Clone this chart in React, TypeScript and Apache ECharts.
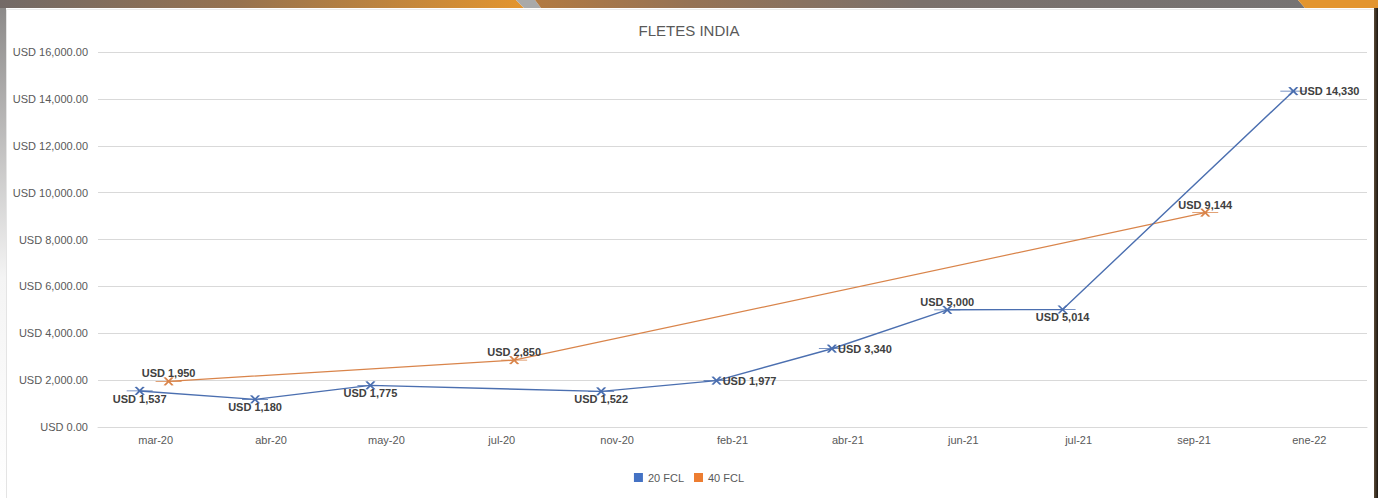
import React, { useEffect, useRef } from "react";
import * as echarts from "echarts";

const categories = ["mar-20", "abr-20", "may-20", "jul-20", "nov-20", "feb-21", "abr-21", "jun-21", "jul-21", "sep-21", "ene-22"];
const fcl20: (number | null)[] = [1537, 1180, 1775, null, 1522, 1977, 3340, 5000, 5014, null, 14330];
const fcl40: (number | null)[] = [1950, null, null, 2850, null, null, null, null, null, 9144, null];
const seriesNames = ["20 FCL", "40 FCL"];
const yTicks = { min: 0, max: 16000, interval: 2000 };

const labelPos20 = ["bottom", "bottom", "bottom", "bottom", "bottom", "right", "right", "top", "bottom", "bottom", "right"];
const labelPos40 = ["top", "top", "top", "top", "top", "top", "top", "top", "top", "top", "top"];

const BLUE = "#4472C4";
const ORANGE = "#ED7D31";
const BLUE_LINE = "#4b6fb0";
const ORANGE_LINE = "#d9844a";
const FONT = "'Liberation Sans', Arial, sans-serif";
const MARKER = "path://M0 4 L26 4 M9 0 L17 8 M17 0 L9 8";

const fmtUsd = (v: number) => "USD " + v.toLocaleString("en-US");
const fmtAxis = (v: number) =>
  "USD " + v.toLocaleString("en-US", { minimumFractionDigits: 2, maximumFractionDigits: 2 });

function buildData(vals: (number | null)[], pos: string[]) {
  return vals.map((v, i) => {
    if (v === null) return null;
    const p = pos[i];
    return {
      value: v,
      label: { position: p, distance: p === "right" ? -8 : -2 },
    };
  });
}

export default function App() {
  const ref = useRef<HTMLDivElement>(null);
  useEffect(() => {
    if (!ref.current) return;
    const chart = echarts.init(ref.current, null, { renderer: "svg" });
    const gridBox = { top: 52, width: 1269, height: 375 };
    const hiddenX = (gi: number) => ({
      type: "category",
      gridIndex: gi,
      data: categories,
      show: false,
      boundaryGap: true,
    });
    const hiddenY = (gi: number) => ({
      type: "value",
      gridIndex: gi,
      ...yTicks,
      show: false,
      splitLine: { show: false },
    });
    const labelStyle = {
      show: true,
      formatter: (p: any) => fmtUsd(p.value),
      color: "#404040",
      fontWeight: "bold",
      fontSize: 11,
      fontFamily: FONT,
    };
    chart.setOption({
      animation: false,
      backgroundColor: "#ffffff",
      textStyle: { fontFamily: FONT },
      graphic: [
        {
          type: "rect",
          shape: { x: 0, y: 8, width: 6, height: 490 },
          style: {
            fill: new echarts.graphic.LinearGradient(0, 0, 0, 1, [
              { offset: 0, color: "#8c8a89" },
              { offset: 0.55, color: "#f4f4f4" },
              { offset: 1, color: "#ffffff" },
            ]),
          },
          silent: true,
        },
        {
          type: "line",
          shape: { x1: 6.5, y1: 9, x2: 6.5, y2: 498 },
          style: { stroke: "#e4e4e4", lineWidth: 1 },
          silent: true,
        },
        {
          type: "line",
          shape: { x1: 6, y1: 9.5, x2: 1374, y2: 9.5 },
          style: { stroke: "#ececec", lineWidth: 1 },
          silent: true,
        },
        {
          type: "polygon",
          shape: { points: [[0, 0], [516, 0], [524, 8], [0, 8]] },
          style: {
            fill: new echarts.graphic.LinearGradient(0, 0, 1, 0, [
              { offset: 0, color: "#736a67" },
              { offset: 0.45, color: "#96724f" },
              { offset: 1, color: "#e3952f" },
            ]),
          },
          silent: true,
        },
        {
          type: "polygon",
          shape: { points: [[516, 0], [535, 0], [541, 8], [524, 8]] },
          style: { fill: "#a9a9a9" },
          silent: true,
        },
        {
          type: "polygon",
          shape: { points: [[535, 0], [1298, 0], [1305, 8], [541, 8]] },
          style: {
            fill: new echarts.graphic.LinearGradient(0, 0, 1, 0, [
              { offset: 0, color: "#b27a42" },
              { offset: 0.2, color: "#967355" },
              { offset: 0.5, color: "#7b716c" },
              { offset: 1, color: "#767373" },
            ]),
          },
          silent: true,
        },
        {
          type: "polygon",
          shape: { points: [[1298, 0], [1378, 0], [1378, 8], [1305, 8]] },
          style: { fill: "#e3952f" },
          silent: true,
        },
        {
          type: "rect",
          shape: { x: 1374, y: 8, width: 4, height: 490 },
          style: {
            fill: new echarts.graphic.LinearGradient(0, 0, 1, 0, [
              { offset: 0, color: "#5a4a36" },
              { offset: 1, color: "#1e1812" },
            ]),
          },
          silent: true,
        },
      ],
      title: {
        text: "FLETES INDIA",
        left: "center",
        top: 18,
        textStyle: { fontSize: 15, fontWeight: "normal", color: "#595959", fontFamily: FONT },
      },
      legend: {
        left: "center",
        top: 467,
        itemWidth: 9,
        itemHeight: 9,
        itemGap: 10,
        textStyle: { fontSize: 11, color: "#595959", fontFamily: FONT },
        data: [
          { name: seriesNames[0], icon: "rect", itemStyle: { color: BLUE, borderWidth: 0 } },
          { name: seriesNames[1], icon: "rect", itemStyle: { color: ORANGE, borderWidth: 0 } },
        ],
      },
      grid: [
        { left: 98, ...gridBox },
        { left: 82, ...gridBox },
        { left: 111, ...gridBox },
      ],
      xAxis: [
        {
          type: "category",
          gridIndex: 0,
          data: categories,
          boundaryGap: true,
          axisLine: { lineStyle: { color: "#d9d9d9" } },
          axisTick: { show: false },
          axisLabel: { color: "#595959", fontSize: 11, margin: 7, fontFamily: FONT },
        },
        hiddenX(1),
        hiddenX(2),
      ],
      yAxis: [
        {
          type: "value",
          gridIndex: 0,
          ...yTicks,
          axisLine: { show: false },
          axisTick: { show: false },
          splitLine: { lineStyle: { color: "#d9d9d9" } },
          axisLabel: { color: "#595959", fontSize: 11, margin: 10, formatter: fmtAxis, fontFamily: FONT },
        },
        hiddenY(1),
        hiddenY(2),
      ],
      series: [
        {
          name: seriesNames[0],
          type: "line",
          xAxisIndex: 1,
          yAxisIndex: 1,
          data: buildData(fcl20, labelPos20),
          connectNulls: true,
          clip: false,
          symbol: MARKER,
          symbolSize: [26, 8],
          lineStyle: { color: BLUE_LINE, width: 1.4 },
          itemStyle: { color: "rgba(0,0,0,0)", borderColor: BLUE_LINE, borderWidth: 1.3 },
          label: labelStyle,
          z: 3,
        },
        {
          name: seriesNames[1],
          type: "line",
          xAxisIndex: 2,
          yAxisIndex: 2,
          data: buildData(fcl40, labelPos40),
          connectNulls: true,
          clip: false,
          symbol: MARKER,
          symbolSize: [26, 8],
          lineStyle: { color: ORANGE_LINE, width: 1.2 },
          itemStyle: { color: "rgba(0,0,0,0)", borderColor: ORANGE_LINE, borderWidth: 1.3 },
          label: labelStyle,
          z: 2,
        },
      ],
    });
    return () => chart.dispose();
  }, []);
  return (
    <div
      ref={ref}
      style={{ position: "fixed", left: 0, top: 0, width: 1378, height: 498 }}
    />
  );
}
